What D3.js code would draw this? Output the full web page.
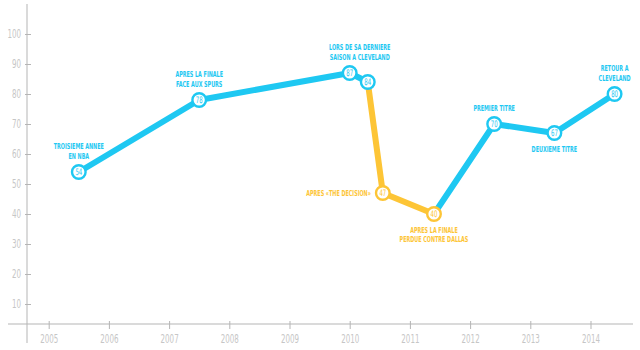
<!DOCTYPE html>
<html>
<head>
<meta charset="utf-8">
<script src="https://cdn.jsdelivr.net/npm/d3@7"></script>
<style>
  html, body { margin: 0; padding: 0; background: #fff; }
  svg { display: block; }
  .axis text { font-family: "DejaVu Sans Condensed", "DejaVu Sans", sans-serif; font-stretch: condensed; fill: #c6c6c6; font-size: 12px; }
  .axis line { stroke: #b5b5b5; stroke-width: 1; }
  .lbl { font-family: "DejaVu Sans Condensed", "DejaVu Sans", sans-serif; font-stretch: condensed; font-weight: bold; font-size: 8.2px; }
  .num { font-family: "DejaVu Sans Condensed", "DejaVu Sans", sans-serif; font-stretch: condensed; font-size: 9px; }
</style>
</head>
<body>
<svg id="chart" width="640" height="350"></svg>
<script>
// Career timeline: year (decimal), score, and the team period of each point
const years  = [2005.5, 2007.5, 2010.0, 2010.3, 2010.55, 2011.4, 2012.4, 2013.4, 2014.4];
const values = [54, 78, 87, 84, 47, 40, 70, 67, 80];
const period = ["cle", "cle", "cle", "cle", "mia", "mia", "cle", "cle", "cle"];
const notes  = [
  ["TROISIEME ANNEE", "EN NBA"],
  ["APRES LA FINALE", "FACE AUX SPURS"],
  ["LORS DE SA DERNIERE", "SAISON A CLEVELAND"],
  [],
  ["APRES \u00ABTHE DECISION\u00BB"],
  ["APRES LA FINALE", "PERDUE CONTRE DALLAS"],
  ["PREMIER TITRE"],
  ["DEUXIEME TITRE"],
  ["RETOUR A", "CLEVELAND"]
];
const noteSide = ["above", "above", "above", "none", "left", "below", "above", "below", "above"];
const yTicks = [10, 20, 30, 40, 50, 60, 70, 80, 90, 100];
const xTicks = [2005, 2006, 2007, 2008, 2009, 2010, 2011, 2012, 2013, 2014];

const colors = { cle: "#1ec8f2", mia: "#fdc536" };
const squeeze = 0.66;   // horizontal compression for the narrow lettering

const svg = d3.select("#chart");
const x = d3.scaleLinear().domain([2005, 2014]).range([48.7, 590.5]);
const y = d3.scaleLinear().domain([0, 100]).range([334, 34]);

const axisX0 = 27, axisY0 = 324;

// Axis lines
svg.append("line").attr("x1", axisX0).attr("x2", axisX0).attr("y1", 4).attr("y2", 343)
  .attr("stroke", "#b5b5b5");
svg.append("line").attr("x1", 8).attr("x2", 633).attr("y1", axisY0).attr("y2", axisY0)
  .attr("stroke", "#b5b5b5");

// Y axis ticks
const gy = svg.append("g").attr("class", "axis").attr("transform", `translate(${axisX0},0)`)
  .call(d3.axisLeft(y).tickValues(yTicks).tickSize(2).tickPadding(6).tickFormat(d3.format("d")));
gy.select(".domain").remove();
gy.selectAll(".tick line").attr("x1", 4).attr("x2", -2);
gy.selectAll(".tick text").attr("x", -6 / squeeze).attr("transform", `scale(${squeeze},1)`);

// X axis ticks
const gx = svg.append("g").attr("class", "axis").attr("transform", `translate(0,${axisY0})`)
  .call(d3.axisBottom(x).tickValues(xTicks).tickSize(5).tickPadding(5).tickFormat(d3.format("d")));
gx.select(".domain").remove();
gx.selectAll(".tick line").attr("y1", -3).attr("y2", 5);
gx.selectAll(".tick text").attr("transform", `scale(${squeeze},1)`);

// Data points
const pts = years.map((yr, i) => ({ yr, v: values[i], p: period[i], note: notes[i], side: noteSide[i] }));

// Line segments, coloured by the period of the segment's end point
const segs = d3.pairs(pts);
svg.append("g").selectAll("line").data(segs).join("line")
  .attr("x1", d => x(d[0].yr)).attr("y1", d => y(d[0].v))
  .attr("x2", d => x(d[1].yr)).attr("y2", d => y(d[1].v))
  .attr("stroke", d => colors[d[1].p])
  .attr("stroke-width", 6)
  .attr("stroke-linecap", "round");

// Markers
const mk = svg.append("g").selectAll("g").data(pts).join("g")
  .attr("transform", d => `translate(${x(d.yr)},${y(d.v)})`);
mk.append("circle").attr("r", 6.8).attr("fill", "#fff")
  .attr("stroke", d => colors[d.p]).attr("stroke-width", 2.4);
mk.append("text").attr("class", "num").attr("text-anchor", "middle").attr("dy", "0.35em")
  .attr("transform", `scale(${squeeze},1)`)
  .attr("fill", d => colors[d.p]).text(d => d.v);

// Annotations, one text element per line
const lh = 9.5;
pts.forEach((d, i) => {
  if (!d.note.length) return;
  const cx = x(d.yr), cy = y(d.v);
  let anchor = "middle", tx = cx, ty;
  if (d.side === "above") ty = cy - 16 - (d.note.length - 1) * lh;
  else if (d.side === "below") ty = cy + 16;
  else { anchor = "end"; tx = cx - 12; ty = cy; }
  if (i === 2) tx = cx + 10;
  d.note.forEach((line, k) => {
    svg.append("text").attr("class", "lbl").attr("fill", colors[d.p])
      .attr("text-anchor", anchor)
      .attr("transform", `translate(${tx},${ty + k * lh}) scale(${squeeze},1)`)
      .attr("dy", "0.35em").text(line);
  });
});
</script>
</body>
</html>
